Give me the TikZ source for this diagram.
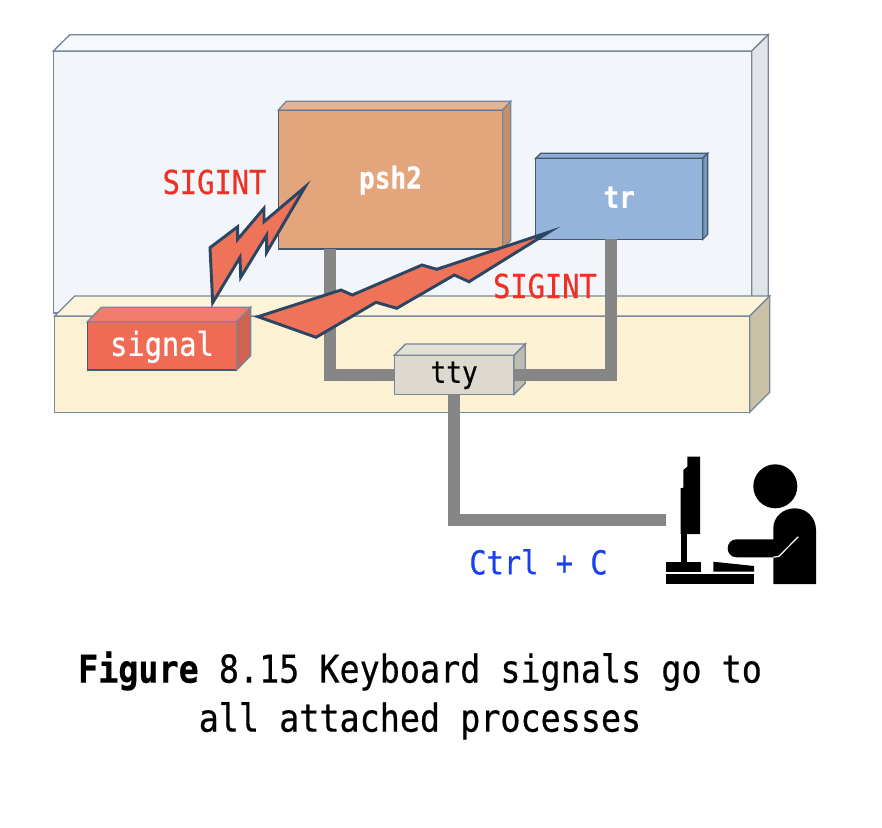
\documentclass[tikz,border=0pt]{standalone}
\usepackage{fontspec}
\setmainfont{DejaVu Sans Mono}[FakeStretch=0.87,FakeBold=0.5]
\usepackage{xcolor}
\usetikzlibrary{calc}
\definecolor{backfill}{HTML}{F2F6FB}
\definecolor{backtop}{HTML}{F6F9FC}
\definecolor{backside}{HTML}{E1E4E9}
\definecolor{kernfill}{HTML}{FCF1D2}
\definecolor{kerntop}{HTML}{FDF4DA}
\definecolor{kernside}{HTML}{C8C1A5}
\definecolor{pshfill}{HTML}{E3A57B}
\definecolor{pshtop}{HTML}{E8B391}
\definecolor{pshside}{HTML}{C4906C}
\definecolor{trfill}{HTML}{94B4DC}
\definecolor{trtop}{HTML}{8CACD3}
\definecolor{trside}{HTML}{7997BC}
\definecolor{sigfill}{HTML}{EF6B56}
\definecolor{sigtop}{HTML}{F27C6C}
\definecolor{sigside}{HTML}{D06350}
\definecolor{ttyfill}{HTML}{DDD9CF}
\definecolor{ttytop}{HTML}{E3E0D6}
\definecolor{ttyside}{HTML}{BFBCB2}
\definecolor{edgegray}{HTML}{76879A}
\definecolor{edgedark}{HTML}{44586F}
\definecolor{wiregray}{HTML}{868686}
\definecolor{boltfill}{HTML}{EE7358}
\definecolor{boltline}{HTML}{2B4562}
\definecolor{sigred}{HTML}{EE3124}
\definecolor{keyblue}{HTML}{1A3FF0}
% top and side faces behind a front node: node, dx, dy, top, side
\newcommand{\boxfaces}[6][edgegray]{%
  \draw[draw=#1,line width=1pt,fill=#5] (#2.north west) -- ++(#3,-#4)
    -- ($(#2.north east)+(#3,-#4)$) -- (#2.north east) -- cycle;
  \draw[draw=#1,line width=1pt,fill=#6] (#2.north east) -- ++(#3,-#4)
    -- ($(#2.south east)+(#3,-#4)$) -- (#2.south east) -- cycle;
}
\begin{document}
\begin{tikzpicture}[
    x=0.75pt,y=-0.75pt,
    front/.style  = {rectangle,draw=edgegray,line width=1pt,inner sep=0pt,outer sep=0pt},
    procbox/.style= {front,draw=edgedark,text=white,text height=16pt,text depth=2.5pt,
                     font=\fontsize{22.5}{27}\selectfont\bfseries},
    wire/.style   = {wiregray,line width=9pt},
    bolt/.style   = {draw=boltline,fill=boltfill,line width=2.2pt,miter limit=12},
    sigtext/.style= {text=sigred,inner sep=0pt,font=\fontsize{24.75}{30}\selectfont},
    figure/.style = {fill=black,draw=none},
  ]
  \useasboundingbox (0,0) rectangle (882,828);

  % ── Outer boxes ───────────────────────────────────────────────
  \node[front,fill=backfill,minimum width=523.8pt,minimum height=196.5pt] (user) at (402.5,182) {};
  \boxfaces{user}{16.6}{16.3}{backtop}{backside}
  \node[front,fill=kernfill,minimum width=521.25pt,minimum height=72.2pt] (kern) at (402.2,364.2) {};
  \boxfaces{kern}{20}{20}{kerntop}{kernside}

  % ── Processes, signal and tty ─────────────────────────────────
  \node[procbox,fill=pshfill,minimum width=168.3pt,minimum height=104.25pt] (psh) at (390.5,179.5) {psh2};
  \boxfaces[edgegray]{psh}{8}{8.7}{pshtop}{pshside}
  \node[procbox,fill=trfill,minimum width=125.25pt,minimum height=60.75pt] (tr) at (619.2,198.8) {tr};
  \boxfaces[edgedark]{tr}{5}{5}{trtop}{trside}
  \node[procbox,fill=sigfill,text height=17.5pt,font=\fontsize{24.75}{30}\selectfont,minimum width=112.05pt,minimum height=36.2pt] (signal) at (162,345.85) {signal};
  \boxfaces{signal}{14}{14.4}{sigtop}{sigside}
  \node[front,fill=ttyfill,text height=14.5pt,text depth=2.5pt,font=\fontsize{22.5}{27}\selectfont,minimum width=89.8pt,minimum height=29.25pt] (tty) at (454.15,374.8) {tty};
  \boxfaces{tty}{11.3}{11.3}{ttytop}{ttyside}

  % ── Wires ─────────────────────────────────────────────────────
  \coordinate (desk) at (666,520);
  \draw[wire] (psh.south west) ++(52,0) |- (tty.west);
  \draw[wire] (tr.south west) ++(75.6,0) |- (tty.east);
  \draw[wire] (tty.south) |- (desk);

  % ── Lightning bolts ───────────────────────────────────────────
  \draw[bolt] (305,187) -- (264,221.7) -- (264,208.3) -- (237.7,239.3) -- (237.7,226.7)
    -- (210,247.7) -- (212.7,302.7) -- (240,257.3) -- (240.7,277.3) -- (266.7,235)
    -- (266.7,252.3) -- cycle;
  \draw[bolt] (258,316.7) -- (341,290) -- (352.3,295) -- (422,265) -- (436.7,269.3)
    -- (549,232) -- (469,281.7) -- (454.3,275) -- (396.7,308.3) -- (376,302.3)
    -- (316,337.3) -- cycle;

  % ── Labels ────────────────────────────────────────────────────
  \node[sigtext] (sigleft)  at (214.5,182) {SIGINT};
  \node[sigtext] (sigright) at (545,286) {SIGINT};
  \node[sigtext,text=keyblue] (ctrl) at (538.5,562) {Ctrl + C};
  \node[align=center,inner sep=0pt,font=\fontsize{28.8}{36.75}\selectfont] (caption) at (420,695.5)
       {\textbf{Figure} 8.15 Keyboard signals go to\\all attached processes};

  % ── User at the terminal ──────────────────────────────────────
  \fill[figure] (687.3,456.7) -- (700,456.7) -- (700,534) -- (680.7,534) -- (680.7,488.3)
    -- (683.3,487.7) -- (683.3,470) -- (687.3,466.7) -- cycle;
  \fill[figure] (680.7,534) rectangle (686.7,562);
  \fill[figure] (666,561.7) rectangle (700.7,571.7);
  \fill[figure] (713.3,561.7) -- (754,566) -- (754,571.7) -- (713.3,571.7) -- cycle;
  \fill[figure] (666,574.3) rectangle (754,584);
  \fill[figure] (775.3,486.3) circle[radius=22];
  \fill[figure] (773.3,584) -- (816,584) -- (816,530) .. controls (816,517) and (806,508.3) .. (795,508.3)
    .. controls (783,508.3) and (773.3,517) .. (773.3,528.3) -- (773.3,539.3) -- (736.7,539.3)
    .. controls (724.7,539.3) and (724.7,557.3) .. (736.7,557.3) -- (773.3,557.3) -- cycle;
  \draw[white,line width=0.9pt] (798.3,536.7) -- (779,556.2) -- (773.3,557.3);

\end{tikzpicture}
\end{document}
